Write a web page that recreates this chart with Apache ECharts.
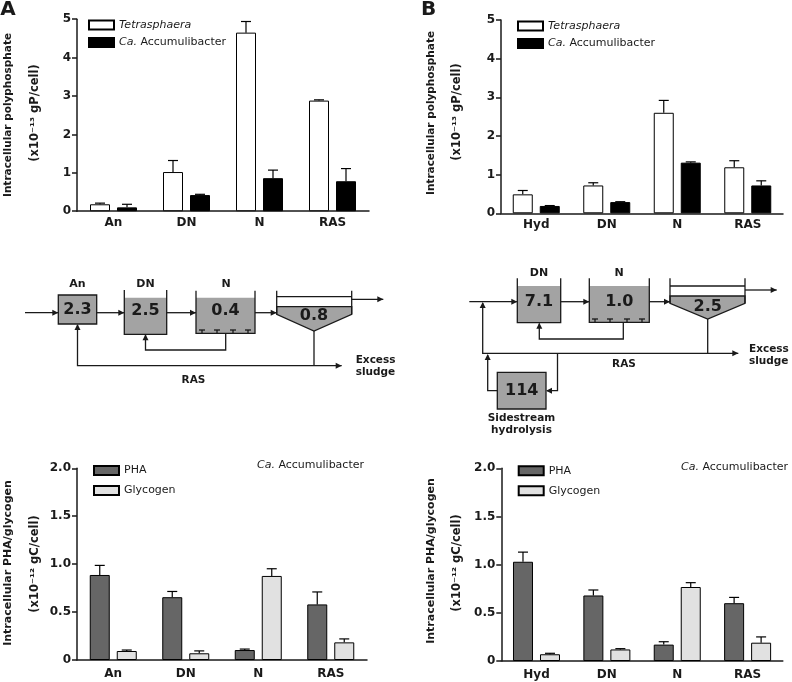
<!DOCTYPE html>
<html>
<head>
<meta charset="utf-8">
<script src="https://cdn.jsdelivr.net/npm/echarts@6/dist/echarts.min.js"></script>
<style>
  html, body { margin: 0; padding: 0; background: #fff; }
  #chart { width: 792px; height: 682px; }
</style>
</head>
<body>
<div id="chart"></div>
<script>
// categories
const catsA = ["An", "DN", "N", "RAS"];
const catsB = ["Hyd", "DN", "N", "RAS"];

// polyphosphate (x10^-13 gP/cell), mean and SD
const polyTetraA = [0.18, 1.02, 4.65, 2.88];
const polyTetraAErr = [0.03, 0.3, 0.29, 0.02];
const polyAccA = [0.1, 0.42, 0.86, 0.78];
const polyAccAErr = [0.08, 0.02, 0.21, 0.33];
const polyTetraB = [0.49, 0.72, 2.6, 1.19];
const polyTetraBErr = [0.1, 0.07, 0.32, 0.17];
const polyAccB = [0.19, 0.29, 1.31, 0.72];
const polyAccBErr = [0.01, 0.01, 0.02, 0.12];

// PHA / glycogen (x10^-12 gC/cell)
const phaA = [0.887, 0.655, 0.104, 0.58];
const phaAErr = [0.1, 0.06, 0.01, 0.13];
const glyA = [0.094, 0.07, 0.877, 0.184];
const glyAErr = [0.01, 0.025, 0.075, 0.036];
const phaB = [1.03, 0.68, 0.17, 0.6];
const phaBErr = [0.1, 0.057, 0.03, 0.06];
const glyB = [0.07, 0.12, 0.768, 0.19];
const glyBErr = [0.01, 0.008, 0.045, 0.06];

// numbers written in the process diagrams
const tanksA = ["2.3", "2.5", "0.4", "0.8"];
const tanksB = ["7.1", "1.0", "2.5", "114"];

const FONT = "DejaVu Sans";
const INK = "#1a1a1a";
const GREY = "#a3a3a3";

// ---------- bar chart helpers ----------
const grids = [
  { left: 77, top: 19.2, width: 292, height: 192 },
  { left: 501, top: 20, width: 282, height: 193.3 },
  { left: 77, top: 468.3, width: 290, height: 191.7 },
  { left: 501.3, top: 468.3, width: 281.5, height: 192.7 },
];

function xAxisFor(idx, cats, margin) {
  return {
    type: "category", gridIndex: idx, data: cats,
    axisLine: { lineStyle: { color: INK, width: 1.5 } },
    axisTick: { show: false },
    axisLabel: { color: INK, fontFamily: FONT, fontWeight: "bold", fontSize: 12, margin: margin },
  };
}

function yAxisFor(idx, max, interval, fmt) {
  return {
    type: "value", gridIndex: idx, min: 0, max: max, interval: interval,
    splitLine: { show: false },
    axisLine: { show: true, lineStyle: { color: INK, width: 1.5 } },
    axisTick: { show: true, length: 5, lineStyle: { color: INK, width: 1.5 } },
    axisLabel: { color: INK, fontFamily: FONT, fontWeight: "bold", fontSize: 12, margin: 6, formatter: fmt },
  };
}

function barSeries(name, idx, vals, color) {
  return {
    name: name, type: "bar", xAxisIndex: idx, yAxisIndex: idx, data: vals,
    barWidth: 20, barGap: "35%",
    itemStyle: { color: color, borderColor: "#000", borderWidth: 1 },
    silent: true,
  };
}

function errSeries(idx, vals, errs, offset) {
  return {
    type: "custom", xAxisIndex: idx, yAxisIndex: idx, silent: true, z: 3,
    data: vals.map((v, i) => [i, v, v + errs[i]]),
    encode: { x: 0, y: [1, 2] },
    renderItem: (params, api) => {
      const base = api.coord([api.value(0), api.value(1)]);
      const top = api.coord([api.value(0), api.value(2)]);
      const x = base[0] + offset;
      const st = { stroke: "#000", lineWidth: 1.2 };
      return {
        type: "group",
        children: [
          { type: "line", shape: { x1: x, y1: base[1], x2: x, y2: top[1] }, style: st },
          { type: "line", shape: { x1: x - 5, y1: top[1], x2: x + 5, y2: top[1] }, style: st },
        ],
      };
    },
  };
}

function legendFor(left, top, names, gap) {
  return {
    left: left, top: top, orient: "vertical", data: names, padding: 0,
    icon: "rect", itemWidth: 25, itemHeight: 9, itemGap: gap, selectedMode: false,
    textStyle: { fontFamily: FONT, fontSize: 11, color: INK, rich: { i: { fontStyle: "italic", fontFamily: FONT, fontSize: 11 } } },
    formatter: (n) => n === "Tetrasphaera" ? "{i|Tetrasphaera}" : n === "Ca. Accumulibacter" ? "{i|Ca.} Accumulibacter" : n,
  };
}

const intFmt = (v) => String(v);
const decFmt = (v) => (v === 0 ? "0" : v.toFixed(1));

// ---------- diagram helpers ----------
const lw = 1.3;
const line = (x1, y1, x2, y2) => ({ type: "line", silent: true, shape: { x1, y1, x2, y2 }, style: { stroke: INK, lineWidth: lw } });
const pline = (pts) => ({ type: "polyline", silent: true, shape: { points: pts }, style: { stroke: INK, lineWidth: lw, fill: null } });
function head(x, y, dir) {
  const p = { r: [[x, y], [x - 6, y - 3], [x - 6, y + 3]], l: [[x, y], [x + 6, y - 3], [x + 6, y + 3]], u: [[x, y], [x - 3, y + 6], [x + 3, y + 6]] }[dir];
  return { type: "polygon", silent: true, shape: { points: p }, style: { fill: INK } };
}
const txt = (s, x, y, size, align, weight) => ({
  type: "text", silent: true, x: x, y: y,
  style: { text: s, fill: INK, font: (weight || "bold") + " " + size + "px '" + FONT + "'", textAlign: align || "center", textVerticalAlign: "middle" },
});
function openTank(x1, x2, top, fillTop, bottom) {
  return [
    { type: "rect", silent: true, shape: { x: x1, y: fillTop, width: x2 - x1, height: bottom - fillTop }, style: { fill: GREY } },
    pline([[x1, top], [x1, bottom], [x2, bottom], [x2, top]]),
  ];
}
function diffusers(xs, y) {
  const out = [];
  xs.forEach((x) => { out.push(line(x - 3, y, x + 3, y)); out.push(line(x, y, x, y + 3)); });
  return out;
}
function clarifier(x1, x2, top, lineY, fillTop, wallBottom, tipX, tipY) {
  return [
    { type: "polygon", silent: true, shape: { points: [[x1, fillTop], [x2, fillTop], [x2, wallBottom], [tipX, tipY], [x1, wallBottom]] }, style: { fill: GREY, stroke: INK, lineWidth: lw } },
    line(x1, top, x1, wallBottom), line(x2, top, x2, wallBottom), line(x1, lineY, x2, lineY),
  ];
}
const box = (x, y, w, h) => ({ type: "rect", silent: true, shape: { x, y, width: w, height: h }, style: { fill: GREY, stroke: INK, lineWidth: lw } });
const vtitle = (s, x, y, size) => ({
  type: "text", silent: true, x: x, y: y, rotation: Math.PI / 2,
  style: { text: s, fill: INK, font: "bold " + size + "px '" + FONT + "'", textAlign: "center", textVerticalAlign: "middle" },
});

const diagramA = [].concat(
  [line(25, 312.7, 58.3, 312.7), head(58.3, 312.7, "r")],
  [box(58.3, 295, 38.4, 29)],
  [line(96.7, 312.7, 124.3, 312.7), head(124.3, 312.7, "r")],
  openTank(124.3, 166.7, 290, 297.7, 334.3),
  [line(166.7, 312.7, 196, 312.7), head(196, 312.7, "r")],
  openTank(196, 255, 290.7, 297.7, 333.3),
  diffusers([202, 217, 233, 248], 330),
  [line(255, 312.7, 276.7, 312.7), head(276.7, 312.7, "r")],
  clarifier(276.7, 351.7, 290.7, 296.7, 306.7, 314.3, 314, 331),
  [line(351.7, 299.3, 383.3, 299.3), head(383.3, 299.3, "r")],
  [pline([[225.7, 333.3], [225.7, 350], [145.5, 350], [145.5, 335]]), head(145.5, 334.3, "u")],
  [line(314, 331, 314, 365.7)],
  [pline([[77.5, 325], [77.5, 365.7], [341.7, 365.7]]), head(77.5, 324, "u"), head(341.7, 365.7, "r")],
  [
    txt("An", 77.5, 284, 11), txt("DN", 145.5, 284, 11), txt("N", 226, 284, 11),
    txt(tanksA[0], 77.5, 310, 16), txt(tanksA[1], 145.5, 311, 16), txt(tanksA[2], 225.5, 311, 16), txt(tanksA[3], 314, 316, 16),
    txt("Excess", 355.7, 360.7, 10.5, "left"), txt("sludge", 355.7, 372.3, 10.5, "left"), txt("RAS", 193.5, 380.7, 10.5),
  ]
);

const diagramB = [].concat(
  [line(469.3, 301.7, 517.3, 301.7), head(517.3, 301.7, "r")],
  openTank(517.3, 560.7, 278.3, 286, 322.7),
  [line(560.7, 301.7, 589.3, 301.7), head(589.3, 301.7, "r")],
  openTank(589.3, 649.3, 278.3, 286, 322.3),
  diffusers([595, 610, 627, 642], 319),
  [pline([[623.3, 322.3], [623.3, 339], [539.3, 339], [539.3, 323.5]]), head(539.3, 322.7, "u")],
  [line(649.3, 301.7, 670, 301.7), head(670, 301.7, "r")],
  clarifier(670, 745, 278.3, 286, 296, 303.3, 707.7, 319),
  [line(745, 290, 776.7, 290), head(776.7, 290, "r")],
  [line(707.7, 319, 707.7, 353.3)],
  [pline([[482.7, 303], [482.7, 353.3], [738.3, 353.3]]), head(482.7, 302, "u"), head(738.3, 353.3, "r")],
  [pline([[557.5, 353.3], [557.5, 390.7], [547, 390.7]]), head(546, 390.7, "l")],
  [box(497.3, 372.3, 48.7, 36.7)],
  [pline([[497.3, 390.7], [487.7, 390.7], [487.7, 355]]), head(487.7, 354, "u")],
  [
    txt("DN", 539, 272.7, 11), txt("N", 619, 272.7, 11),
    txt(tanksB[0], 539, 302, 16), txt(tanksB[1], 619.3, 302, 16), txt(tanksB[2], 707.7, 306.7, 16), txt(tanksB[3], 521.7, 391, 16),
    txt("Excess", 749, 349.3, 10.5, "left"), txt("sludge", 749, 361, 10.5, "left"), txt("RAS", 624, 364, 10.5),
    txt("Sidestream", 521.5, 418.3, 10.5), txt("hydrolysis", 521.5, 430.3, 10.5),
  ]
);

const accLabel = (x, y) => ({
  type: "text", silent: true, x: x, y: y,
  style: {
    text: "{i|Ca.} Accumulibacter", fill: INK, font: "11px '" + FONT + "'", textAlign: "right", textVerticalAlign: "middle",
    rich: { i: { fontStyle: "italic", fontFamily: FONT, fontSize: 11, fill: INK } },
  },
});

const titles = [
  txt("A", 8, 10, 20), txt("B", 428.5, 10, 20),
  vtitle("Intracellular polyphosphate", 8, 115, 10.5), vtitle("(x10\u207B\u00B9\u00B3 gP/cell)", 35, 113, 11.5),
  vtitle("Intracellular polyphosphate", 431, 113, 10.5), vtitle("(x10\u207B\u00B9\u00B3 gP/cell)", 457.5, 112, 11.5),
  vtitle("Intracellular PHA/glycogen", 8, 563, 11), vtitle("(x10\u207B\u00B9\u00B2 gC/cell)", 35, 564, 11.5),
  vtitle("Intracellular PHA/glycogen", 431, 561, 11), vtitle("(x10\u207B\u00B9\u00B2 gC/cell)", 457.5, 563, 11.5),
  accLabel(364, 465), accLabel(788, 466.7),
];

const chart = echarts.init(document.getElementById("chart"));
chart.setOption({
  animation: false,
  backgroundColor: "#fff",
  textStyle: { fontFamily: FONT },
  grid: grids,
  xAxis: [xAxisFor(0, catsA, 6), xAxisFor(1, catsB, 6), xAxisFor(2, catsA, 8), xAxisFor(3, catsB, 8)],
  yAxis: [yAxisFor(0, 5, 1, intFmt), yAxisFor(1, 5, 1, intFmt), yAxisFor(2, 2, 0.5, decFmt), yAxisFor(3, 2, 0.5, decFmt)],
  legend: [
    legendFor(88, 19.5, ["Tetrasphaera", "Ca. Accumulibacter"], 6.5),
    legendFor(517, 20.5, ["Tetrasphaera", "Ca. Accumulibacter"], 6.5),
    legendFor(93, 465, ["PHA", "Glycogen"], 9),
    legendFor(517.7, 465.3, ["PHA", "Glycogen"], 9),
  ],
  series: [
    barSeries("Tetrasphaera", 0, polyTetraA, "#fff"),
    barSeries("Ca. Accumulibacter", 0, polyAccA, "#000"),
    errSeries(0, polyTetraA, polyTetraAErr, -13.5),
    errSeries(0, polyAccA, polyAccAErr, 13.5),
    barSeries("Tetrasphaera", 1, polyTetraB, "#fff"),
    barSeries("Ca. Accumulibacter", 1, polyAccB, "#000"),
    errSeries(1, polyTetraB, polyTetraBErr, -13.5),
    errSeries(1, polyAccB, polyAccBErr, 13.5),
    barSeries("PHA", 2, phaA, "#666"),
    barSeries("Glycogen", 2, glyA, "#e1e1e1"),
    errSeries(2, phaA, phaAErr, -13.5),
    errSeries(2, glyA, glyAErr, 13.5),
    barSeries("PHA", 3, phaB, "#666"),
    barSeries("Glycogen", 3, glyB, "#e1e1e1"),
    errSeries(3, phaB, phaBErr, -13.5),
    errSeries(3, glyB, glyBErr, 13.5),
  ],
  graphic: titles.concat(diagramA, diagramB),
});
</script>
</body>
</html>
